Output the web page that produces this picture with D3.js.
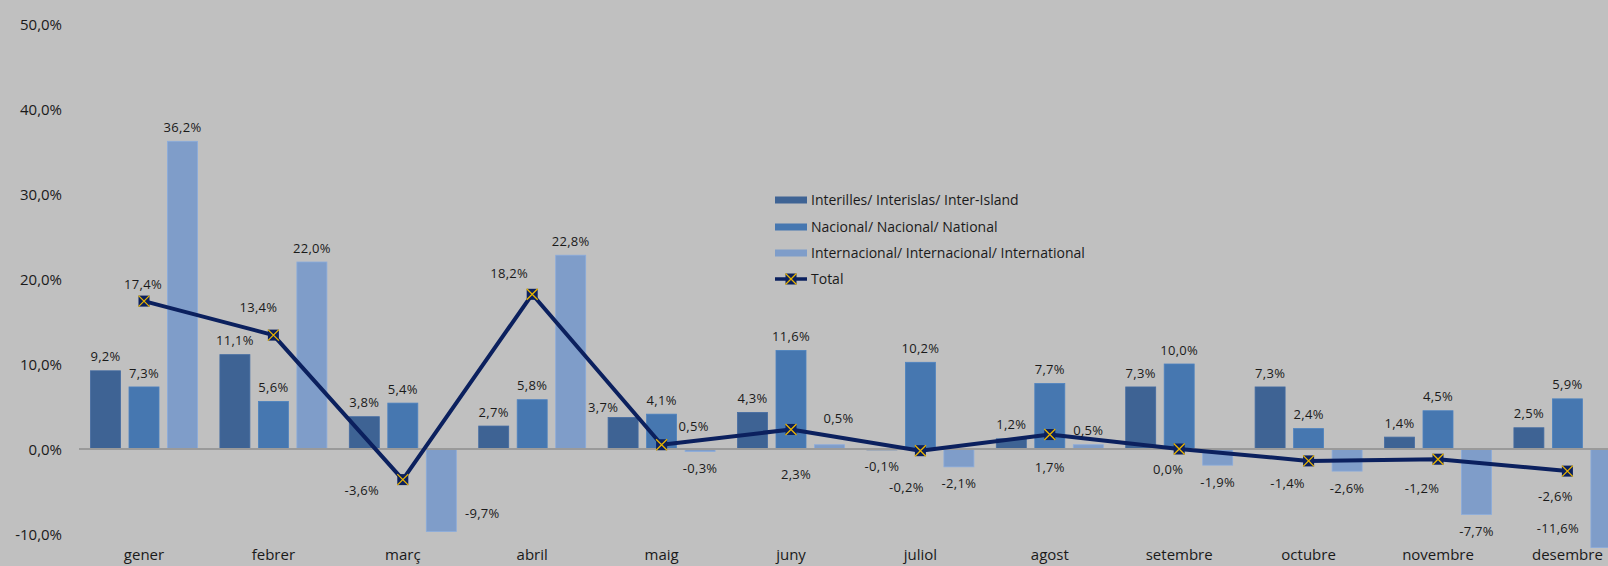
<!DOCTYPE html>
<html>
<head>
<meta charset="utf-8">
<script src="https://cdn.jsdelivr.net/npm/d3@7"></script>
<style>
html,body{margin:0;padding:0;background:#c0c0c0;overflow:hidden;}
svg{display:block;}
text{font-family:"Open Sans",sans-serif;fill:#1a1a1a;}
</style>
</head>
<body>
<svg id="chart" width="1608" height="566"></svg>
<script>
// ---- data ----
const months = ["gener","febrer","març","abril","maig","juny","juliol","agost","setembre","octubre","novembre","desembre"];
const seriesNames = ["Interilles/ Interislas/ Inter-Island","Nacional/ Nacional/ National","Internacional/ Internacional/ International"];
const interilles = [9.2, 11.1, 3.8, 2.7, 3.7, 4.3, -0.1, 1.2, 7.3, 7.3, 1.4, 2.5];
const nacional = [7.3, 5.6, 5.4, 5.8, 4.1, 11.6, 10.2, 7.7, 10.0, 2.4, 4.5, 5.9];
const internacional = [36.2, 22.0, -9.7, 22.8, -0.3, 0.5, -2.1, 0.5, -1.9, -2.6, -7.7, -11.6];
const total = [17.4, 13.4, -3.6, 18.2, 0.5, 2.3, -0.2, 1.7, 0.0, -1.4, -1.2, -2.6];
const totalName = "Total";
const yTicks = [-10, 0, 10, 20, 30, 40, 50];

// ---- styles / label placement (not data) ----
const colors = ["#3e6394", "#4677b0", "#7f9dc9"];
const lineColor = "#0b205e";
const markerX = "#e8b400";
// total label offsets from marker [dx, dy]
const totalLabelOffsets = [[-1,-17],[-15,-28],[-41,11],[-23,-21],[32,-18],[5,45],[-14,37],[0,33],[-11,20],[-21,23],[-16,29],[-12,25]];
// extra shifts for a few bar labels: key "seriesIndex-monthIndex"
const barLabelShift = {"2-2":[41,-35],"2-11":[-48,-36],"0-4":[-20,4],"2-5":[9,-12]};

const W = 1608, H = 566;
const svg = d3.select("#chart");
svg.append("rect").attr("width", W).attr("height", H).attr("fill", "#c0c0c0");

const loc = d3.formatLocale({decimal: ",", thousands: ".", grouping: [3], currency: ["", "€"], minus: "-"});
const fmt = v => loc.format(".1f")(v) + "%";

const x = d3.scaleBand().domain(months).range([79.3, 79.3 + 12 * 129.4]).paddingInner(0).paddingOuter(0);
const groupW = 107;
const xs = d3.scaleBand().domain([0,1,2]).range([0, groupW]).paddingInner(8.5/38.5).paddingOuter(0);
const y = d3.scaleLinear().domain([-10, 50]).range([534, 24]);
const cx = m => x(m) + x.bandwidth() / 2;
const gx = m => cx(m) - groupW / 2;

// y axis labels
const yAxis = d3.axisLeft(y).tickValues(yTicks).tickFormat(fmt).tickSize(0).tickPadding(0);
const ya = svg.append("g").attr("transform", "translate(62,0)").call(yAxis);
ya.select(".domain").remove();
ya.selectAll("text").attr("font-family", "Open Sans").attr("font-size", 15).attr("fill", "#1a1a1a").attr("dy", "0.35em");

// bars
const series = [interilles, nacional, internacional];
series.forEach((vals, si) => {
  svg.append("g").selectAll("rect").data(vals).join("rect")
    .attr("x", (d, i) => gx(months[i]) + xs(si))
    .attr("width", xs.bandwidth())
    .attr("y", d => y(Math.max(0, d)))
    .attr("height", d => Math.abs(y(d) - y(0)))
    .attr("fill", colors[si])
    .attr("stroke", d3.color(colors[si]).brighter(0.25))
    .attr("stroke-width", 0.8);
});

// zero line + month labels
const xa = d3.axisBottom(x).tickSize(0).tickPadding(0);
const xg = svg.append("g").attr("transform", `translate(0,${y(0)})`).call(xa);
xg.select(".domain").remove();
svg.append("line").attr("x1", 79).attr("x2", W).attr("y1", y(0)).attr("y2", y(0))
  .attr("stroke", "#9a9a9a").attr("stroke-width", 2);
xg.selectAll("text").attr("font-family", "Open Sans").attr("font-size", 15).attr("fill", "#1a1a1a")
  .attr("y", 555 - y(0)).attr("dy", "0.35em");

// total line
const line = d3.line().x((d, i) => cx(months[i])).y(d => y(d));
svg.append("path").datum(total).attr("d", line).attr("fill", "none")
  .attr("stroke", lineColor).attr("stroke-width", 4).attr("stroke-linejoin", "round");

function marker(g, px, py) {
  const s = 5.5;
  g.append("rect").attr("x", px - s).attr("y", py - s).attr("width", 2*s).attr("height", 2*s).attr("fill", lineColor);
  g.append("path").attr("d", `M${px-s},${py-s}L${px+s},${py+s}M${px+s},${py-s}L${px-s},${py+s}`)
    .attr("stroke", markerX).attr("stroke-width", 1.3);
}
const mg = svg.append("g");
total.forEach((d, i) => marker(mg, cx(months[i]), y(d)));

// bar labels
const lg = svg.append("g").attr("font-size", 13).attr("text-anchor", "middle").attr("letter-spacing", "0.3px");
series.forEach((vals, si) => {
  vals.forEach((d, i) => {
    const bx = gx(months[i]) + xs(si) + xs.bandwidth() / 2;
    let by = d >= 0 ? y(d) - 14 : y(d) + 17;
    const sh = barLabelShift[si + "-" + i] || [0, 0];
    lg.append("text").attr("x", bx + sh[0]).attr("y", by + sh[1]).attr("dy", "0.35em").text(fmt(d));
  });
});
total.forEach((d, i) => {
  const o = totalLabelOffsets[i];
  lg.append("text").attr("x", cx(months[i]) + o[0]).attr("y", y(d) + o[1]).attr("dy", "0.35em").text(fmt(d));
});

// legend
const legend = svg.append("g").attr("font-size", 14);
const legendRows = [200, 227, 253, 279];
seriesNames.forEach((n, i) => {
  legend.append("rect").attr("x", 775).attr("y", legendRows[i] - 3.5).attr("width", 32).attr("height", 7).attr("fill", colors[i]);
  legend.append("text").attr("x", 811).attr("y", legendRows[i]).attr("dy", "0.35em").text(n);
});
legend.append("line").attr("x1", 775).attr("x2", 807).attr("y1", legendRows[3]).attr("y2", legendRows[3])
  .attr("stroke", lineColor).attr("stroke-width", 3.5);
marker(legend, 791, legendRows[3]);
legend.append("text").attr("x", 811).attr("y", legendRows[3]).attr("dy", "0.35em").text(totalName);
</script>
</body>
</html>
